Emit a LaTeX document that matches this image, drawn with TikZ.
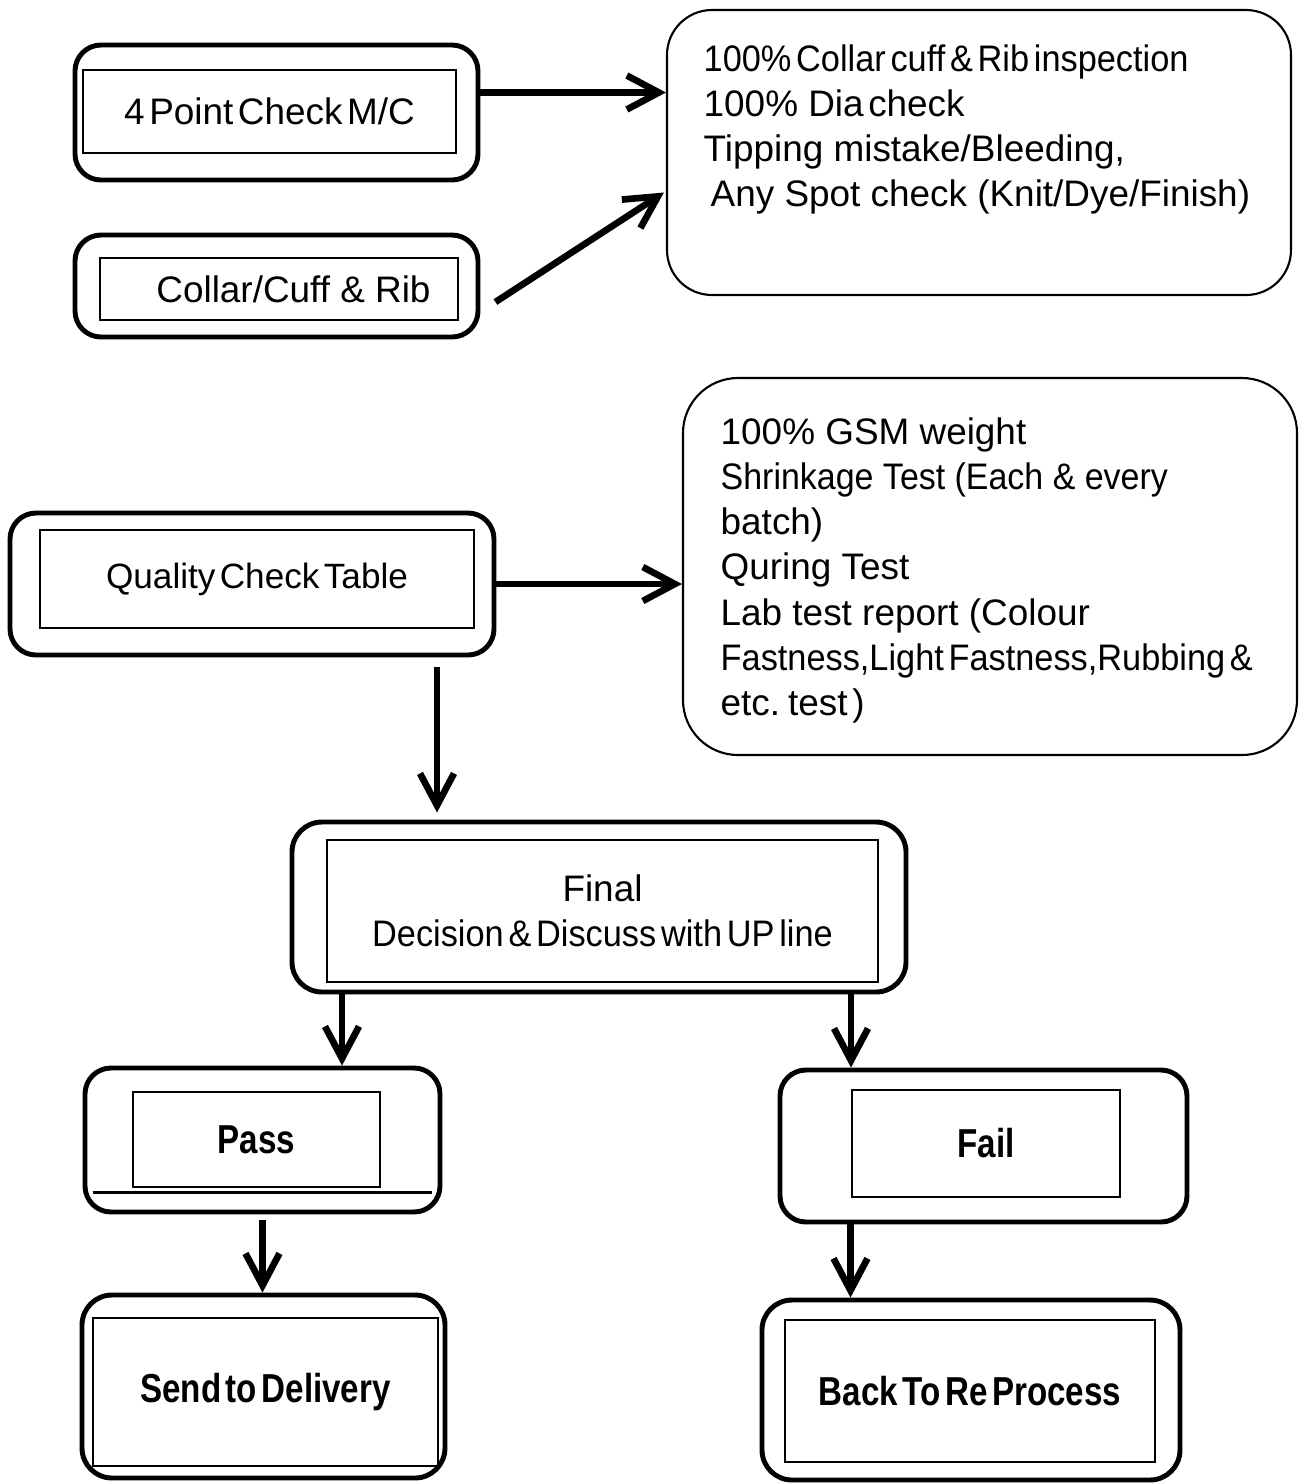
\documentclass[tikz,border=0pt]{standalone}
\usepackage{fontspec}
\setmainfont{Liberation Sans}
\newfontfamily\tightfont[WordSpace=0.45]{Liberation Sans}
\newfontfamily\slimfont[FakeStretch=0.93,WordSpace=0.5]{Liberation Sans}
\newfontfamily\condfont[FakeStretch=0.92]{Liberation Sans}
\newfontfamily\narrowfont[FakeStretch=0.82,WordSpace=0.5]{Liberation Sans}
\usetikzlibrary{positioning,arrows.meta}
\tikzset{
  outbox/.style={draw, line width=1.4pt, rounded corners=2.6mm, inner sep=0pt},
  inbox/.style={draw, line width=0.6pt, inner sep=0pt, font=\fontsize{10.5}{12.8}\selectfont, align=center},
  note/.style={draw, line width=0.6pt, rounded corners=4.5mm, inner sep=0pt},
  notetext/.style={anchor=north west, inner sep=0pt, align=left, font=\fontsize{10.5}{12.85}\selectfont},
  bigbold/.style={font=\fontsize{11.5}{13}\selectfont\narrowfont\bfseries},
  flow/.style={-{Straight Barb[length=3.2mm,width=3.4mm]}, line width=1.9pt},
  sep/.style={line width=1pt},
}

\begin{document}
\begin{tikzpicture}
\useasboundingbox (0,0) rectangle (13,-14.83);
% top row
\node[outbox, minimum width=40.3mm, minimum height=13.5mm] (pt4) at (2.765,-1.125) {};
\node[inbox, minimum width=37.3mm, minimum height=8.3mm] (pt4in) at (2.695,-1.115) {\tightfont 4 Point Check M/C};
\node[outbox, minimum width=40.3mm, minimum height=10.2mm] (collar) at (2.765,-2.86) {};
\node[inbox, minimum width=35.8mm, minimum height=6.2mm] (collarin) at (2.79,-2.89) {\hspace*{2.9mm}Collar/Cuff \& Rib};
\node[note, minimum width=62.4mm, minimum height=28.5mm] (insp) at (9.79,-1.525) {};
\node[notetext] (insptxt) at (7.03,-0.44) {{\slimfont 100\% Collar cuff \& Rib inspection}\\
  100\% {\tightfont Dia check}\\
  Tipping mistake/Bleeding,\\
  \hspace*{0.7mm}Any Spot check (Knit/Dye/Finish)};
% middle
\node[outbox, minimum width=48.4mm, minimum height=14.2mm] (qct) at (2.52,-5.84) {};
\node[inbox, font=\fontsize{10}{12}\selectfont\tightfont, minimum width=43.4mm, minimum height=9.8mm] (qctin) at (2.57,-5.79) {Quality Check Table};
\node[note, rounded corners=5.5mm, minimum width=61.4mm, minimum height=37.7mm] (lab) at (9.90,-5.665) {};
\node[notetext] (labtxt) at (7.2,-4.17) {100\% GSM weight\\
  {\condfont Shrinkage Test (Each \& every}\\
  batch)\\
  Quring Test\\
  Lab test report (Colour\\
  {\slimfont Fastness,Light Fastness,Rubbing \&}\\
  {\tightfont etc. test )}};
\node[outbox, rounded corners=3mm, minimum width=61.4mm, minimum height=17mm] (final) at (5.99,-9.07) {};
\node[inbox, minimum width=55.1mm, minimum height=14.2mm] (finalin) at (6.025,-9.11) {Final\\{\slimfont Decision \& Discuss with UP line}};
% bottom
\node[outbox, minimum width=35.5mm, minimum height=14.4mm] (pass) at (2.625,-11.40) {};
\node[inbox, bigbold, minimum width=24.7mm, minimum height=9.5mm] (passin) at (2.565,-11.395) {Pass};
\draw[sep] ([xshift=1mm,yshift=2.2mm]pass.south west) -- ([xshift=-1mm,yshift=2.2mm]pass.south east);
\node[outbox, minimum width=40.7mm, minimum height=15.2mm] (fail) at (9.835,-11.46) {};
\node[inbox, bigbold, minimum width=26.8mm, minimum height=10.7mm] (failin) at (9.86,-11.435) {Fail};
\node[outbox, rounded corners=3mm, minimum width=36.3mm, minimum height=18.3mm] (deliv) at (2.635,-13.865) {};
\node[inbox, bigbold, minimum width=34.5mm, minimum height=14.8mm] (delivin) at (2.655,-13.92) {Send to Delivery};
\node[outbox, rounded corners=3mm, minimum width=41.8mm, minimum height=18mm] (repro) at (9.71,-13.9) {};
\node[inbox, bigbold, minimum width=37mm, minimum height=14.2mm] (reproin) at (9.70,-13.91) {Back To Re Process};
% arrows
\draw[flow] ([yshift=2mm]pt4.east) -- ([yshift=2mm]pt4.east -| insp.west);
\draw[flow] ([xshift=1.5mm,yshift=-1.6mm]collar.east) -- ([xshift=-0.2mm,yshift=-4mm]insp.west);
\draw[flow] (qct.east) -- (qct.east -| lab.west);
\draw[flow] ([xshift=18.5mm,yshift=-1mm]qct.south) -- ([xshift=18.5mm,yshift=0.7mm]qct.south |- final.north);
\draw[flow] ([xshift=-25.7mm]final.south) -- ([xshift=-25.7mm]final.south |- pass.north);
\draw[flow] ([xshift=25.2mm]final.south) -- ([xshift=25.2mm]final.south |- fail.north);
\draw[flow] ([yshift=-0.6mm]pass.south) -- (pass.south |- deliv.north);
\draw[flow] ([xshift=-13.3mm]fail.south) -- ([xshift=-13.3mm]fail.south |- repro.north);
\end{tikzpicture}
\end{document}
